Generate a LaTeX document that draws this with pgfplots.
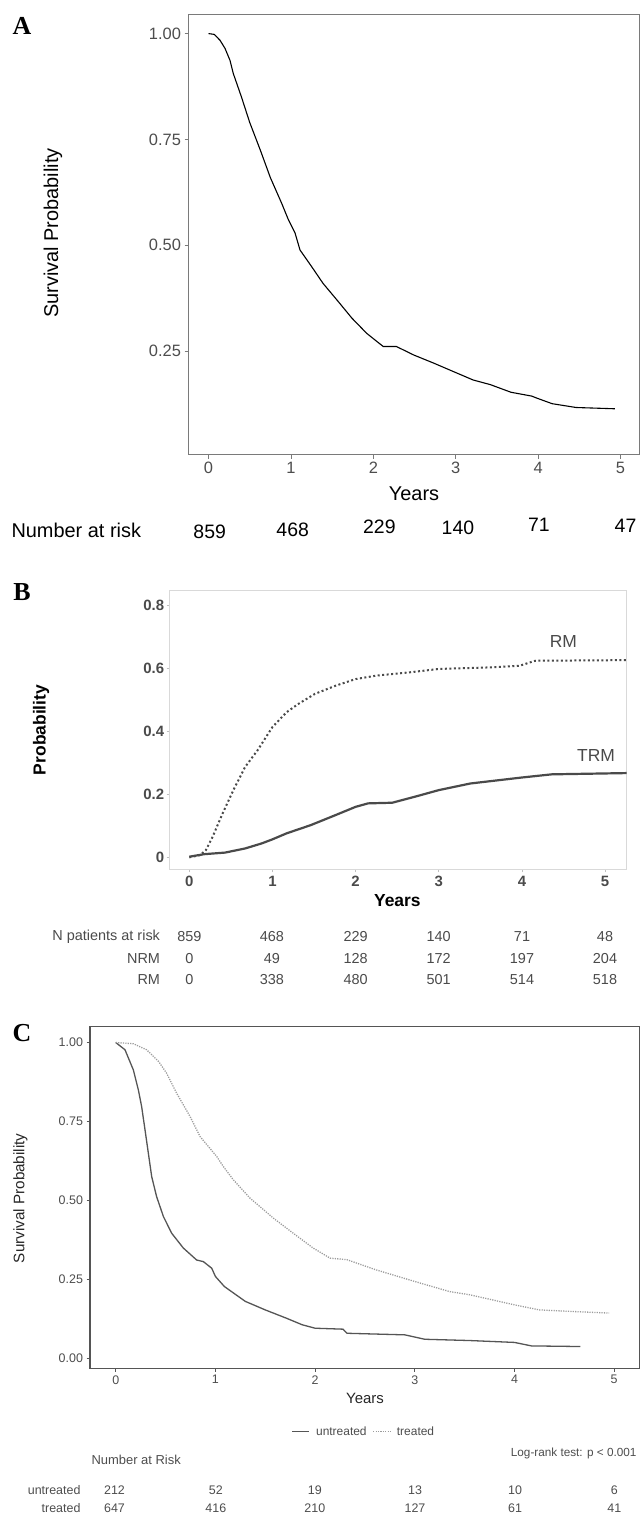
\documentclass[border=0pt]{standalone}
\usepackage{pgfplots}
\pgfplotsset{compat=1.18}
\usepackage{fontspec}
\setmainfont{Liberation Sans}
\newfontfamily\panelfont{Liberation Serif}
\definecolor{tickgray}{HTML}{4D4D4D}
\definecolor{framegray}{HTML}{7A7A7A}
\definecolor{bgray}{HTML}{4A4A4A}
\definecolor{cdark}{HTML}{555555}
\definecolor{clight}{HTML}{9C9C9C}
\newcommand\fs[1]{\fontsize{#1}{#1}\selectfont}

\begin{document}
\begin{tikzpicture}
\path[use as bounding box] (0bp,0bp) rectangle (641bp,-1517bp);

% ---------------- A
\node[font=\panelfont\bfseries\fs{26}] at (22bp,-26bp) {A};
\begin{axis}[
  at={(188.5bp,-454.5bp)}, anchor=south west,
  scale only axis, width=451bp, height=440bp,
  xmin=-0.243, xmax=5.23, ymin=0.006, ymax=1.045,
  xtick={0,1,2,3,4,5}, ytick={0.25,0.5,0.75,1},
  yticklabels={0.25,0.50,0.75,1.00},
  tick pos=left, tick align=outside, major tick length=4bp,
  tick style={framegray, line width=0.8bp},
  axis line style={framegray, line width=1.1bp},
  /pgf/number format/assume math mode=true,
  ticklabel style={font=\fs{16.5}, text=tickgray},
  clip=false]
\addplot[black, line width=1.1bp] coordinates {
(0,1.0) (0.07,0.998) (0.14,0.984) (0.2,0.965) (0.26,0.937) (0.30,0.906)
(0.40,0.85) (0.50,0.79) (0.63,0.724) (0.75,0.66) (0.888,0.599) (0.97,0.56)
(1.05,0.529) (1.11,0.489) (1.25,0.45) (1.39,0.41) (1.575,0.367) (1.74,0.328)
(1.92,0.292) (2.12,0.261) (2.28,0.261) (2.49,0.241) (2.73,0.222) (2.97,0.202)
(3.21,0.182) (3.42,0.171) (3.67,0.153) (3.92,0.144) (4.0,0.138) (4.17,0.126)
(4.46,0.117) (4.93,0.114)};
\end{axis}
\node[font=\fs{20}, rotate=90] at (53bp,-233bp) {Survival Probability};
\node[font=\fs{20}] at (414bp,-494bp) {Years};
\node[font=\fs{20}, anchor=west] at (8bp,-530.5bp) {Number at risk};
\node[font=\fs{19.5}] at (209.7bp,-531.5bp) {859};
\node[font=\fs{19.5}] at (292.7bp,-530bp) {468};
\node[font=\fs{19.5}] at (379.4bp,-527bp) {229};
\node[font=\fs{19.5}] at (457.9bp,-528.3bp) {140};
\node[font=\fs{19.5}] at (538.8bp,-525bp) {71};
\node[font=\fs{19.5}] at (625.5bp,-525.7bp) {47};

% ---------------- B
\node[font=\panelfont\bfseries\fs{26}] at (22bp,-591.7bp) {B};
\begin{axis}[
  at={(169.7bp,-869.3bp)}, anchor=south west,
  scale only axis, width=457bp, height=278.6bp,
  xmin=-0.236, xmax=5.26, ymin=-0.038, ymax=0.845,
  xtick={0,1,2,3,4,5}, ytick={0,0.2,0.4,0.6,0.8},
  yticklabels={0,0.2,0.4,0.6,0.8},
  tick pos=left, tick align=outside, major tick length=3bp,
  tick style={gray!50, line width=0.8bp},
  axis line style={gray!30, line width=1.2bp},
  /pgf/number format/assume math mode=true,
  ticklabel style={font=\bfseries\fs{15}, text=bgray},
  yticklabel style={xshift=1bp},
  clip=false]
\addplot[bgray, line width=2bp, dash pattern=on 2bp off 2.5bp] coordinates {
(0,0) (0.13,0.007) (0.2,0.023) (0.28,0.065) (0.40,0.139) (0.53,0.213)
(0.67,0.286) (0.82,0.339) (1.0,0.413) (1.17,0.46) (1.31,0.486) (1.51,0.518)
(1.76,0.544) (2.0,0.565) (2.25,0.576) (2.64,0.586) (3.0,0.597) (3.62,0.602)
(3.97,0.607) (4.16,0.623) (5.26,0.625)};
\addplot[bgray, line width=2.2bp] coordinates {
(0,0.002) (0.18,0.01) (0.43,0.015) (0.67,0.028) (0.87,0.044) (1.0,0.057)
(1.17,0.076) (1.46,0.102) (1.76,0.134) (2.0,0.16) (2.15,0.171) (2.44,0.173)
(2.74,0.194) (3.0,0.213) (3.38,0.234) (4.0,0.253) (4.36,0.263) (5.26,0.267)};
\end{axis}
\node[font=\fs{17.5}, text=bgray] at (563.3bp,-641.7bp) {RM};
\node[font=\fs{17.5}, text=bgray] at (596bp,-755bp) {TRM};
\node[font=\bfseries\fs{17.5}, rotate=90] at (41bp,-730bp) {Probability};
\node[font=\bfseries\fs{17.5}] at (397.4bp,-901bp) {Years};
\begin{scope}[every node/.style={font=\fs{14.5}, text=bgray}]
\node[anchor=east] at (163.5bp,-936.7bp) {N patients at risk};
\node[anchor=east] at (163.5bp,-958.3bp) {NRM};
\node[anchor=east] at (163.5bp,-980bp) {RM};
\foreach \x/\a/\b/\c in {189.3/859/0/0, 271.9/468/49/338, 355.7/229/128/480,
  438.6/140/172/501, 522/71/197/514, 605/48/204/518}{
  \node at (\x bp,-936.7bp) {\a};
  \node at (\x bp,-958.3bp) {\b};
  \node at (\x bp,-980bp) {\c};
}
\end{scope}

% ---------------- C
\node[font=\panelfont\bfseries\fs{26}] at (22bp,-1033bp) {C};
\begin{axis}[
  at={(90bp,-1368.3bp)}, anchor=south west,
  scale only axis, width=549.5bp, height=341.6bp,
  xmin=-0.258, xmax=5.254, ymin=-0.032, ymax=1.05,
  xtick={0,1,2,3,4,5}, ytick={0,0.25,0.5,0.75,1},
  yticklabels={0.00,0.25,0.50,0.75,1.00},
  tick pos=left, tick align=outside, major tick length=3.5bp,
  tick style={cdark, line width=0.8bp},
  axis line style={cdark, line width=1.2bp},
  /pgf/number format/assume math mode=true,
  ticklabel style={font=\fs{12.5}, text=tickgray},
  legend columns=2,
  legend style={at={(0.4986,-0.1856)}, anchor=center, draw=none,
    font=\fs{12}, text=tickgray, column sep=4bp},
  legend image code/.code={\draw[#1] (0bp,0bp) -- (17bp,0bp);},
  clip=false]
\addplot[cdark, line width=1.3bp] coordinates {
(0,1.0) (0.093,0.977) (0.177,0.913) (0.227,0.85) (0.26,0.797) (0.294,0.723)
(0.327,0.65) (0.361,0.575) (0.41,0.512) (0.478,0.449) (0.561,0.396)
(0.678,0.349) (0.812,0.311) (0.879,0.306) (0.963,0.285) (1.0,0.259)
(1.09,0.227) (1.30,0.18) (1.50,0.153) (1.71,0.127) (1.87,0.106) (2.0,0.095)
(2.28,0.092) (2.32,0.079) (2.9,0.074) (3.1,0.060) (3.55,0.056) (4.0,0.05)
(4.17,0.039) (4.66,0.037)};
\addlegendentry{untreated}
\addplot[clight, line width=1.3bp, dash pattern=on 1.2bp off 1.2bp] coordinates {
(0,1.0) (0.177,0.996) (0.31,0.977) (0.43,0.94) (0.51,0.903) (0.61,0.84)
(0.745,0.766) (0.846,0.702) (1.013,0.639) (1.08,0.607) (1.18,0.565)
(1.347,0.507) (1.58,0.444) (1.78,0.396) (1.98,0.349) (2.15,0.317)
(2.32,0.312) (2.61,0.28) (3.0,0.243) (3.35,0.211) (3.55,0.201) (4.0,0.169)
(4.25,0.153) (4.58,0.148) (4.95,0.143)};
\addlegendentry{treated}
\end{axis}
\node[font=\fs{15.3}, rotate=90, text=black!85] at (20.4bp,-1198.3bp) {Survival Probability};
\node[font=\fs{15}, text=black!85] at (365bp,-1398.3bp) {Years};
\node[font=\fs{11.8}, text=tickgray, anchor=east] at (640bp,-1453.3bp) {Log-rank test: p < 0.001};
\node[font=\fs{13}, text=tickgray, anchor=west] at (88bp,-1460bp) {Number at Risk};
\begin{scope}[every node/.style={font=\fs{12.5}, text=tickgray}]
\node[anchor=east] at (84bp,-1490bp) {untreated};
\node[anchor=east] at (84bp,-1508.3bp) {treated};
\foreach \x/\a/\b in {114.5/212/647, 215.8/52/416, 314.8/19/210,
  415/13/127, 515/10/61, 614.4/6/41}{
  \node at (\x bp,-1490bp) {\a};
  \node at (\x bp,-1508.3bp) {\b};
}
\end{scope}
\end{tikzpicture}
\end{document}
